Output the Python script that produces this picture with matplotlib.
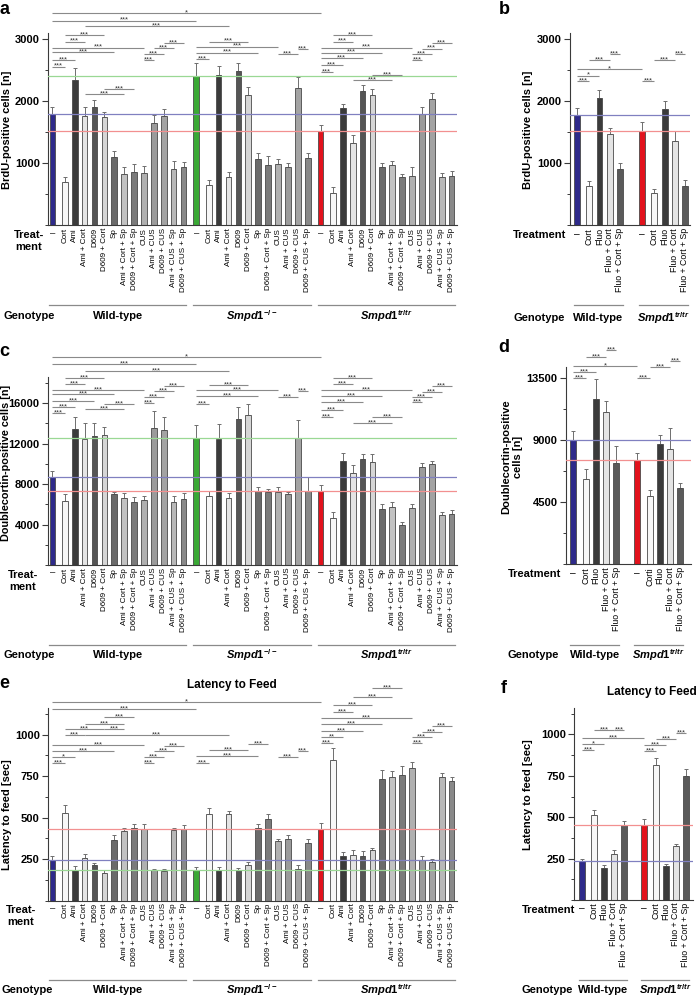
import matplotlib
matplotlib.use('Agg')
import matplotlib.pyplot as plt
from matplotlib.transforms import blended_transform_factory
from matplotlib.ticker import MultipleLocator
import numpy as np

plt.rcParams['font.family'] = ['Liberation Sans', 'DejaVu Sans']
plt.rcParams['mathtext.fontset'] = 'custom'
plt.rcParams['mathtext.rm'] = 'Liberation Sans:bold'
plt.rcParams['mathtext.it'] = 'Liberation Sans:italic:bold'
plt.rcParams['mathtext.bf'] = 'Liberation Sans:bold'

W, H = 698, 996

# ---------------- data ----------------
wt_treat = ['–', 'Cort', 'Ami', 'Ami + Cort', 'D609', 'D609 + Cort', 'Sp', 'Ami + Cort + Sp',
            'D609 + Cort + Sp', 'CUS', 'Ami + CUS', 'D609 + CUS', 'Ami + CUS + Sp', 'D609 + CUS + Sp']
ko_treat = ['–', 'Cort', 'Ami', 'Ami + Cort', 'D609', 'D609 + Cort', 'Sp', 'D609 + Cort + Sp',
            'CUS', 'Ami + CUS', 'D609 + CUS', 'D609 + CUS + Sp']
tr_treat = list(wt_treat)
fluo_treat = ['–', 'Cort', 'Fluo', 'Fluo + Cort', 'Fluo + Cort + Sp']
fluo_treat_d_tr = ['–', 'Corti', 'Fluo', 'Fluo + Cort', 'Fluo + Cort + Sp']
genotypes3 = ['Wild-type', r'$\mathit{Smpd1}^{\mathit{-/-}}$', r'$\mathit{Smpd1}^{\mathit{tr/tr}}$']
genotypes2 = ['Wild-type', r'$\mathit{Smpd1}^{\mathit{tr/tr}}$']

# a: BrdU-positive cells
brdu_wt = [1800, 700, 2340, 1770, 1915, 1750, 1095, 830, 865, 840, 1655, 1770, 915, 935]
brdu_wt_sem = [100, 75, 200, 130, 105, 80, 95, 115, 120, 115, 125, 110, 125, 85]
brdu_ko = [2410, 650, 2430, 775, 2490, 2100, 1065, 973, 983, 946, 2210, 1080]
brdu_ko_sem = [200, 80, 140, 90, 130, 125, 95, 145, 86, 54, 187, 91]
brdu_tr = [1515, 525, 1885, 1320, 2165, 2100, 935, 968, 780, 795, 1790, 2035, 785, 795]
brdu_tr_sem = [95, 87, 75, 130, 95, 95, 65, 62, 53, 140, 110, 105, 55, 75]

# b: BrdU, fluoxetine
brdu_fluo_wt = [1780, 634, 2060, 1468, 908]
brdu_fluo_wt_sem = [107, 81, 120, 97, 92]
brdu_fluo_tr = [1526, 516, 1880, 1365, 634]
brdu_fluo_tr_sem = [134, 69, 120, 160, 96]

# c: Doublecortin-positive cells
dcx_wt = [8700, 6310, 13410, 12430, 12750, 12890, 6970, 6570, 6180, 6440, 13540, 13310, 6180, 6510]
dcx_wt_sem = [570, 660, 1220, 1640, 1320, 760, 260, 590, 560, 400, 1640, 1320, 660, 560]
dcx_ko = [12560, 6840, 12490, 6570, 14460, 14860, 7300, 7170, 7230, 7000, 12560, 7330]
dcx_ko_sem = [1250, 460, 1480, 590, 1150, 1020, 360, 300, 490, 230, 1740, 1380]
dcx_tr = [7330, 4600, 10260, 9040, 10450, 10190, 5490, 5750, 3940, 5590, 9700, 9930, 4930, 5000]
dcx_tr_sem = [560, 590, 760, 820, 560, 760, 490, 430, 330, 390, 330, 360, 330, 430]

# d: Doublecortin, fluoxetine
dcx_fluo_wt = [9020, 6160, 12030, 11090, 7330]
dcx_fluo_wt_sem = [680, 730, 1400, 800, 1260]
dcx_fluo_tr = [7570, 4950, 8760, 8370, 5510]
dcx_fluo_tr_sem = [490, 410, 610, 1500, 410]

# e: Latency to feed
lat_wt = [243, 529, 182, 259, 213, 166, 363, 417, 437, 431, 182, 176, 423, 429]
lat_wt_sem = [26, 48, 27, 24, 10, 20, 34, 20, 26, 32, 10, 14, 16, 24]
lat_ko = [182, 523, 182, 519, 182, 213, 439, 493, 359, 369, 188, 349]
lat_ko_sem = [20, 34, 20, 18, 14, 20, 24, 26, 14, 24, 25, 24]
lat_tr = [429, 844, 269, 273, 269, 307, 734, 746, 754, 796, 247, 231, 744, 718]
lat_tr_sem = [36, 76, 24, 34, 28, 12, 50, 32, 54, 36, 22, 18, 26, 26]

# f: Latency to feed, fluoxetine
lat_fluo_wt = [234, 516, 194, 278, 454]
lat_fluo_wt_sem = [16, 28, 16, 22, 26]
lat_fluo_tr = [454, 816, 206, 324, 750]
lat_fluo_tr_sem = [36, 44, 10, 16, 40]

# significance brackets: (bar i, bar j, y value, label)
a_brackets = [
    (0, 26, 3419, '*'), (0, 14, 3300, '***'), (3, 17, 3205, '***'),
    (1, 5, 3069, '***'), (1, 3, 2961, '***'), (0, 9, 2865, '***'), (0, 6, 2790, '***'),
    (0, 2, 2666, '***'), (0, 1, 2558, '***'), (5, 8, 2203, '***'), (3, 7, 2118, '***'),
    (9, 10, 2666, '***'), (9, 11, 2758, '***'), (10, 12, 2855, '***'), (11, 13, 2935, '***'),
    (15, 19, 2961, '***'), (14, 22, 2881, '***'), (14, 20, 2784, '***'), (14, 15, 2677, '***'),
    (22, 24, 2763, '***'), (24, 25, 2844, '***'),
    (27, 31, 3069, '***'), (27, 29, 2961, '***'), (26, 35, 2865, '***'), (26, 32, 2784, '***'),
    (26, 30, 2694, '***'), (26, 28, 2585, '***'), (26, 27, 2468, '***'), (29, 33, 2344, '***'),
    (31, 34, 2424, '***'), (35, 36, 2666, '***'), (35, 37, 2758, '***'), (36, 38, 2848, '***'),
    (37, 39, 2935, '***'),
]
b_brackets = [(0, 1, 2327, '***'), (0, 2, 2413, '*'), (0, 5, 2516, '*'), (1, 3, 2666, '***'),
              (3, 4, 2763, '***'), (5, 6, 2327, '***'), (6, 8, 2666, '***'), (8, 9, 2763, '***')]
c_brackets = [
    (0, 26, 20515, '*'), (0, 14, 19853, '***'), (3, 17, 19161, '***'),
    (1, 5, 18440, '***'), (1, 3, 17877, '***'), (0, 9, 17285, '***'), (0, 6, 16860, '***'),
    (0, 4, 16228, '***'), (0, 2, 15635, '***'), (0, 1, 14983, '***'), (5, 8, 15902, '***'),
    (3, 7, 15408, '***'), (9, 10, 15971, '***'), (9, 11, 16564, '***'), (10, 12, 17156, '***'),
    (11, 13, 17680, '***'),
    (15, 19, 17779, '***'), (14, 22, 17285, '***'), (14, 20, 16692, '***'), (14, 15, 15872, '***'),
    (22, 24, 16623, '***'), (24, 25, 17186, '***'),
    (27, 31, 18440, '***'), (27, 29, 17877, '***'), (26, 35, 17285, '***'), (26, 32, 16722, '***'),
    (26, 30, 16070, '***'), (26, 28, 15309, '***'), (26, 27, 14647, '***'), (29, 33, 14055, '***'),
    (31, 34, 14588, '***'), (35, 36, 16070, '***'), (35, 37, 16564, '***'), (36, 38, 17117, '***'),
    (37, 39, 17680, '***'),
]
d_brackets = [(0, 1, 13543, '***'), (0, 2, 13979, '***'), (0, 5, 14393, '*'), (1, 3, 15068, '***'),
              (3, 4, 15554, '***'), (5, 6, 13543, '***'), (6, 8, 14342, '***'), (8, 9, 14756, '***')]
e_brackets = [
    (0, 26, 1198, '*'), (0, 14, 1152, '***'),
    (5, 8, 1107, '***'), (3, 7, 1063, '***'), (1, 5, 1031, '***'), (5, 7, 1031, '***'),
    (1, 3, 997, '***'), (3, 17, 997, '***'), (0, 9, 937, '***'), (0, 6, 902, '***'),
    (0, 2, 866, '*'), (0, 1, 830, '***'), (9, 10, 830, '***'), (9, 11, 866, '***'),
    (10, 12, 901, '***'), (11, 13, 932, '***'),
    (14, 15, 826, '***'), (14, 20, 870, '***'), (15, 19, 907, '***'), (19, 21, 941, '***'),
    (22, 24, 866, '***'), (24, 25, 901, '***'),
    (31, 34, 1278, '***'), (29, 33, 1224, '***'), (27, 31, 1178, '***'), (27, 29, 1137, '***'),
    (26, 35, 1098, '***'), (26, 32, 1063, '***'), (26, 30, 1023, '***'), (26, 28, 983, '**'),
    (26, 27, 947, '***'), (35, 36, 947, '***'), (35, 37, 983, '***'), (36, 38, 1017, '***'),
    (37, 39, 1051, '***'),
]
f_brackets = [(0, 1, 908, '***'), (0, 2, 942, '*'), (0, 5, 978, '***'), (1, 3, 1028, '***'),
              (3, 4, 1028, '***'), (5, 6, 899, '***'), (5, 7, 936, '***'), (6, 8, 972, '***'),
              (8, 9, 1010, '***')]

# ---------------- style ----------------
treat_colors = {
    'Cort': '#f7f7f7', 'Corti': '#f7f7f7', 'Ami': '#3b3b3b', 'Ami + Cort': '#e4e4e4',
    'D609': '#555555', 'D609 + Cort': '#d6d6d6', 'Sp': '#6b6b6b', 'Ami + Cort + Sp': '#c2c2c2',
    'D609 + Cort + Sp': '#7b7b7b', 'CUS': '#b0b0b0', 'Ami + CUS': '#9b9b9b', 'D609 + CUS': '#a3a3a3',
    'Ami + CUS + Sp': '#b8b8b8', 'D609 + CUS + Sp': '#898989',
    'Fluo': '#3b3b3b', 'Fluo + Cort': '#e4e4e4', 'Fluo + Cort + Sp': '#5a5a5a',
}
CTRL = {'wt': '#2e2a8a', 'ko': '#3aa935', 'tr': '#e2121c'}
LINE = {'wt': '#8080c0', 'ko': '#9ad894', 'tr': '#f29090'}
EDGE = '#4a4a4a'
SPINE = '#3a3a3a'
BRK = '#8a8a8a'

fig = plt.figure(figsize=(W / 100, H / 100), dpi=100)


def add_ax(l, t, r, b):
    return fig.add_axes([l / W, 1 - b / H, (r - l) / W, (b - t) / H])


def ftext(x, y, s, **kw):
    kw.setdefault('fontweight', 'bold')
    return fig.text(x / W, 1 - y / H, s, **kw)


def group_positions(sizes, first_gap, group_gap):
    pos = []
    x = 0.0
    for g, n in enumerate(sizes):
        if g > 0:
            x += group_gap
        grp = [x]
        x += first_gap
        grp.append(x)
        for _ in range(n - 2):
            x += 1
            grp.append(x)
        pos.append(grp)
    return pos


def draw_panel(ax, vals, sems, labels, keys, pos_groups, ylim, major, minor, brackets,
               xlim, label_size):
    allpos, allval, allsem, alllab, allcol = [], [], [], [], []
    for g in range(len(vals)):
        for k in range(len(vals[g])):
            allpos.append(pos_groups[g][k])
            allval.append(vals[g][k])
            allsem.append(sems[g][k])
            alllab.append(labels[g][k])
            allcol.append(CTRL[keys[g]] if k == 0 else treat_colors[labels[g][k]])
    ax.errorbar(allpos, allval, yerr=[np.zeros(len(allsem)), allsem], fmt='none',
                ecolor='#6e6e6e', elinewidth=0.7, capsize=1.6, capthick=0.7, zorder=1)
    ax.bar(allpos, allval, width=0.58, color=allcol, edgecolor=EDGE, linewidth=0.6, zorder=2)
    for g in range(len(vals)):
        ax.axhline(vals[g][0], color=LINE[keys[g]], lw=0.9, zorder=3)
    ax.set_xlim(*xlim)
    ax.set_ylim(0, ylim)
    ax.set_yticks(major)
    ax.set_yticklabels([str(m) for m in major], fontsize=8, fontweight='bold')
    ax.yaxis.set_minor_locator(MultipleLocator(minor))
    ax.tick_params(axis='y', which='major', direction='out', length=4, width=0.8, color=SPINE, pad=2)
    ax.tick_params(axis='y', which='minor', direction='out', length=2.5, width=0.7, color=SPINE)
    ax.set_xticks(allpos)
    ax.set_xticklabels(['' if l == '–' else l for l in alllab], rotation=90, fontsize=label_size)
    ax.tick_params(axis='x', length=0, pad=2)
    for p, l in zip(allpos, alllab):
        if l == '–':
            ax.annotate('–', xy=(p, 0), xycoords=('data', 'axes fraction'), xytext=(0, -2.5),
                        textcoords='offset points', ha='center', va='top',
                        fontsize=label_size + 1, annotation_clip=False)
    for s in ['top', 'right']:
        ax.spines[s].set_visible(False)
    for s in ['left', 'bottom']:
        ax.spines[s].set_color(SPINE)
        ax.spines[s].set_linewidth(0.8)
    for i, j, y, txt in brackets:
        ax.plot([allpos[i], allpos[j]], [y, y], color=BRK, lw=0.8, clip_on=False, zorder=4,
                solid_capstyle='butt')
        ax.annotate(txt, xy=((allpos[i] + allpos[j]) / 2, y), xytext=(0, -0.9),
                    textcoords='offset points', ha='center', va='baseline', fontsize=5.5,
                    color='#333333', annotation_clip=False)


def genotype_row(ax, pos_groups, names, y_line, y_text, ext=0.3):
    tr = blended_transform_factory(ax.transData, fig.transFigure)
    for p, name in zip(pos_groups, names):
        ax.plot([p[0] - ext, p[-1] + ext], [1 - y_line / H] * 2, transform=tr, color=BRK,
                lw=0.9, clip_on=False)
        ax.text((p[0] + p[-1]) / 2, 1 - y_text / H, name, transform=tr, ha='center',
                va='center', fontsize=8, fontweight='bold', clip_on=False)


big_pos = group_positions([len(wt_treat), len(ko_treat), len(tr_treat)], 1.25, 1.3)
small_pos_b = group_positions([5, 5], 1.2, 2.2)
small_pos_d = group_positions([5, 5], 1.25, 2.05)
small_pos_f = group_positions([5, 5], 1.2, 2.0)
big_xlim = (-0.45, 40.9)
big_labels = [wt_treat, ko_treat, tr_treat]
keys3 = ['wt', 'ko', 'tr']
keys2 = ['wt', 'tr']

# ---- panel a ----
ax_a = add_ax(48, 33, 457, 225.3)
draw_panel(ax_a, [brdu_wt, brdu_ko, brdu_tr], [brdu_wt_sem, brdu_ko_sem, brdu_tr_sem],
           big_labels, keys3, big_pos, 3100, [1000, 2000, 3000], 500, a_brackets, big_xlim, 5.8)
genotype_row(ax_a, big_pos, genotypes3, 305, 316)

# ---- panel b ----
ax_b = add_ax(570, 33, 690, 225.3)
draw_panel(ax_b, [brdu_fluo_wt, brdu_fluo_tr], [brdu_fluo_wt_sem, brdu_fluo_tr_sem],
           [fluo_treat, fluo_treat], keys2, small_pos_b, 3100, [1000, 2000, 3000], 500,
           b_brackets, (-0.7, 11.1), 6.3)
genotype_row(ax_b, small_pos_b, genotypes2, 305, 318)

# ---- panel c ----
ax_c = add_ax(48, 376.7, 457, 565)
draw_panel(ax_c, [dcx_wt, dcx_ko, dcx_tr], [dcx_wt_sem, dcx_ko_sem, dcx_tr_sem],
           big_labels, keys3, big_pos, 18600, [4000, 8000, 12000, 16000], 2000, c_brackets,
           big_xlim, 5.8)
genotype_row(ax_c, big_pos, genotypes3, 645, 655)

# ---- panel d ----
ax_d = add_ax(566, 366.7, 691, 564.3)
draw_panel(ax_d, [dcx_fluo_wt, dcx_fluo_tr], [dcx_fluo_wt_sem, dcx_fluo_tr_sem],
           [fluo_treat, fluo_treat_d_tr], keys2, small_pos_d, 14350, [4500, 9000, 13500], 2250,
           d_brackets, (-0.7, 11.6), 6.3)
genotype_row(ax_d, small_pos_d, genotypes2, 645, 655)

# ---- panel e ----
ax_e = add_ax(48, 708.3, 457, 900.5)
draw_panel(ax_e, [lat_wt, lat_ko, lat_tr], [lat_wt_sem, lat_ko_sem, lat_tr_sem],
           big_labels, keys3, big_pos, 1158, [250, 500, 750, 1000], 125, e_brackets,
           big_xlim, 5.8)
genotype_row(ax_e, big_pos, genotypes3, 980, 990)

# ---- panel f ----
ax_f = add_ax(574, 708.3, 693, 900)
draw_panel(ax_f, [lat_fluo_wt, lat_fluo_tr], [lat_fluo_wt_sem, lat_fluo_tr_sem],
           [fluo_treat, fluo_treat], keys2, small_pos_f, 1158, [250, 500, 750, 1000], 125,
           f_brackets, (-0.8, 11.1), 6.3)
genotype_row(ax_f, small_pos_f, genotypes2, 980, 990)

# ---- text labels ----
for x, y, s in [(4, 9, 'a'), (504, 9, 'b'), (4, 352, 'c'), (504, 347, 'd'), (4, 684, 'e'), (504, 688, 'f')]:
    ftext(x, y, s, fontsize=13, ha='center', va='center')

ftext(7, 130, 'BrdU-positive cells [n]', fontsize=8, rotation=90, ha='center', va='center')
ftext(528, 130, 'BrdU-positive cells [n]', fontsize=8, rotation=90, ha='center', va='center')
ftext(6, 463, 'Doublecortin-positive cells [n]', fontsize=7.8, rotation=90, ha='center', va='center')
ftext(512, 457, 'Doublecortin-positive\ncells [n]', fontsize=8, rotation=90, ha='center',
      va='center', multialignment='center')
ftext(7, 815, 'Latency to feed [sec]', fontsize=8, rotation=90, ha='center', va='center')
ftext(528, 795, 'Latency to feed [sec]', fontsize=8, rotation=90, ha='center', va='center')

ftext(232, 685, 'Latency to Feed', fontsize=8.5, ha='center', va='center')
ftext(652, 692, 'Latency to Feed', fontsize=8.5, ha='center', va='center')

for x, y in [(29, 241), (23, 581), (21, 916)]:
    ftext(x, y, 'Treat-\nment', fontsize=8, ha='center', va='center', linespacing=1.15)
for x, y in [(513, 235), (508, 574), (522, 910)]:
    ftext(x, y, 'Treatment', fontsize=8, ha='left', va='center')
for x, y in [(3, 316), (3, 655), (2, 990), (513, 318), (508, 655), (522, 990)]:
    ftext(x, y, 'Genotype', fontsize=8, ha='left', va='center')

fig.savefig('out.png', dpi=100)
